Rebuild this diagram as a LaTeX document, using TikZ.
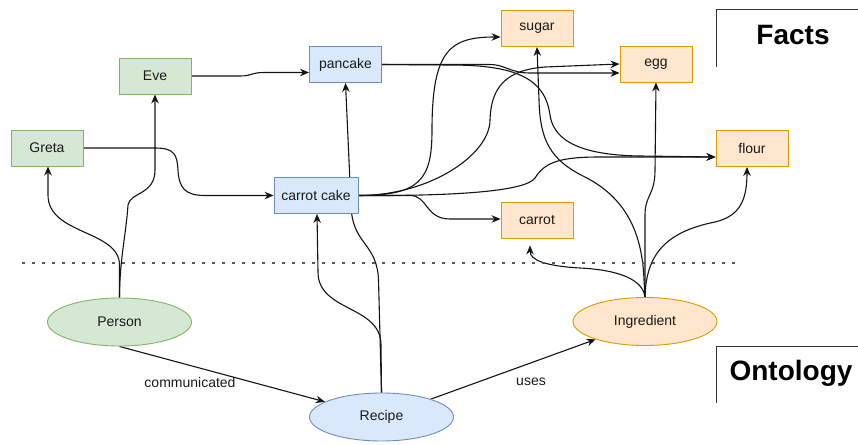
\documentclass[tikz,border=0pt]{standalone}
\usepackage{fontspec}
\setmainfont{Liberation Sans}
\usetikzlibrary{shapes.geometric,arrows.meta,calc}
\pgfdeclarelayer{back}
\pgfdeclarelayer{edges}
\pgfsetlayers{back,edges,main}
\definecolor{gfill}{HTML}{D5E8D4}\definecolor{gline}{HTML}{82B366}
\definecolor{bfill}{HTML}{DAE8FC}\definecolor{bline}{HTML}{6C8EBF}
\definecolor{ofill}{HTML}{FFE6CC}\definecolor{oline}{HTML}{D79B00}
\definecolor{txt}{HTML}{1A1A1A}
\begin{document}
\begin{tikzpicture}[x=1pt,y=-1pt,
  box/.style={draw, line width=0.9pt, minimum width=72pt, minimum height=36pt,
    inner sep=0pt, font=\fontsize{14}{16}\selectfont, text=txt},
  greenbox/.style={box, fill=gfill, draw=gline},
  bluebox/.style={box, fill=bfill, draw=bline},
  orangebox/.style={box, fill=ofill, draw=oline},
  ell/.style={box, shape=ellipse, minimum width=144pt, minimum height=48pt},
  greenell/.style={ell, fill=gfill, draw=gline},
  blueell/.style={ell, fill=bfill, draw=bline},
  orangeell/.style={ell, fill=ofill, draw=oline},
  link/.style={draw=black!92, line width=1.1pt, -{Stealth[length=9pt,width=7.5pt]}},
  lbl/.style={font=\fontsize{14}{16}\selectfont, text=txt, inner sep=1pt},
  title/.style={font=\fontsize{28}{32}\selectfont\bfseries, text=black, inner sep=0pt},
  frame/.style={draw=black!80, line width=1pt},
  divider/.style={draw=black!65, line width=2.6pt, dash pattern=on 2.6pt off 7.4pt}
]
\useasboundingbox (0,0) rectangle (858,444);
\begin{pgfonlayer}{back}
  \fill[white] (0,0) rectangle (858,444);
\end{pgfonlayer}

% instances (facts)
\node[greenbox] (eve) at (155,76) {Eve};
\node[greenbox] (greta) at (47,148) {Greta};
\node[bluebox] (pancake) at (345.5,64.5) {pancake};
\node[bluebox, minimum width=84pt] (ccake) at (316,195.5) {carrot cake};
\node[orangebox] (sugar) at (537,28.5) {sugar};
\node[orangebox] (egg) at (656,64) {egg};
\node[orangebox] (flour) at (752,148.5) {flour};
\node[orangebox] (carrot) at (537,220) {carrot};

% classes (ontology)
\node[greenell] (person) at (119.5,322) {Person};
\node[blueell] (recipe) at (381.5,417) {Recipe};
\node[orangeell] (ingred) at (645,321.5) {Ingredient};

% edge labels
\node[lbl] (commlbl) at (190,382) {communicated};
\node[lbl] (useslbl) at (531,382) {uses};

% section headings
\node[title, anchor=base] (factslbl) at (793,45) {Facts};
\node[title, anchor=base] (ontlbl) at (791,380) {Ontology};
\draw[frame] (716,67) -- (716,10) -- (858,10);
\draw[frame] (716,403) -- (716,346) -- (858,346);

% separator between facts and ontology
\coordinate (divL) at (22,263);
\coordinate (divR) at (736,263);
\draw[divider] (divL) -- (divR);

\begin{pgfonlayer}{edges}
  % who communicated which recipe
  \draw[link] (eve.east) -- (240,76) .. controls (252,76) and (251,72.5) .. (264,72.5) -- ($(pancake.west)+(0,8)$);
  \draw[link] (greta.east) -- (155,148) .. controls (175,148) and (177,155) .. (178,170)
     .. controls (179,188) and (185,195.5) .. (205,195.5) -- (ccake.west);

  % Person instances
  \draw[link] (person.north) -- (119.5,265) .. controls (119.5,230) and (48,235) .. (48,195) -- ($(greta.south)+(1,0)$);
  \draw[link] (person.north) .. controls (119.5,260) and (126,235) .. (128,205)
     .. controls (130,192) and (155,195) .. (155,170) -- (eve.south);

  % Recipe instances
  \draw[link] (recipe.north) -- (378.5,280) .. controls (377,242) and (352,245) .. (351,205) -- (pancake.south);
  \draw[link] (recipe.north) -- (381,345) .. controls (381,305) and (318,312) .. (318,272) -- ($(ccake.south)+(1,0)$);

  % ontology relations
  \draw[link] (person.south) -- (recipe);
  \draw[link] (recipe) -- (ingred);

  % carrot cake uses
  \draw[link] (ccake.east) .. controls (420,195.5) and (432,180) .. (432,130)
     .. controls (432,50) and (450,37) .. ($(sugar.west)+(0,8.5)$);
  \draw[link] (ccake.east) .. controls (431,195.5) and (490,154) .. (490,120)
     .. controls (491,88) and (505,70) .. (545,67) -- (egg.west);
  \draw[link] (ccake.east) .. controls (450,196) and (525,192) .. (535,178)
     .. controls (545,162) and (560,157) .. (600,157) -- ($(flour.west)+(0,8.5)$);
  \draw[link] (ccake.east) -- (410,195.5) .. controls (428,195.5) and (425,219) .. (450,219) -- ($(carrot.west)+(0,-1)$);

  % pancake uses
  \draw[link] (pancake.east) -- (490,64.5) .. controls (505,64.5) and (510,73) .. (530,73) -- ($(egg.west)+(0,9)$);
  \draw[link] (pancake.east) -- (450,65) .. controls (515,65) and (545,78) .. (550,115)
     .. controls (553,135) and (570,155) .. (640,156) -- ($(flour.west)+(0,8.5)$);

  % Ingredient instances
  \draw[link] (ingred.north) -- (644,280) .. controls (642,225) and (620,195) .. (585,177)
     .. controls (550,160) and (540,140) .. (539,100) -- (sugar.south);
  \draw[link] (ingred.north) -- (645,215) .. controls (645,195) and (655,195) .. (655,170) -- (egg.south);
  \draw[link] (ingred.north) .. controls (646,255) and (665,232) .. (715,222)
     .. controls (740,216) and (747,200) .. ($(flour.south)+(-5,0)$);
  \draw[link] (ingred.north) .. controls (643,280) and (620,270) .. (580,268)
     .. controls (545,266) and (530,260) .. ($(carrot.south)+(-7,7)$);
\end{pgfonlayer}
\end{tikzpicture}
\end{document}
